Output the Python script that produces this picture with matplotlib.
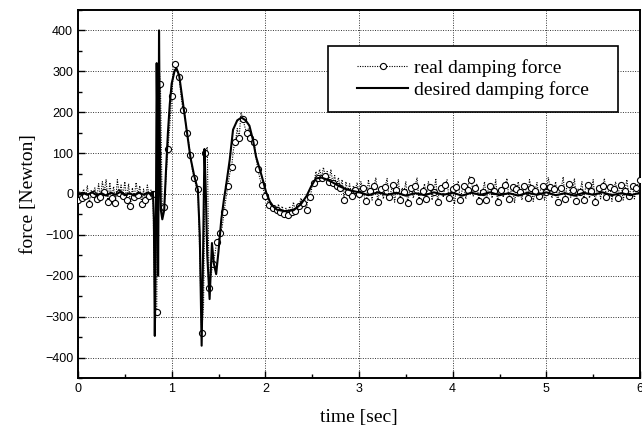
import numpy as np
import matplotlib
matplotlib.use("Agg")
import matplotlib.pyplot as plt
from matplotlib.ticker import MultipleLocator
from matplotlib.patches import Rectangle

# ---------------- data ----------------
# desired damping force (solid)
t_desired = [
    0.00, 0.05, 0.10, 0.15, 0.20, 0.25, 0.30, 0.35, 0.40, 0.45, 0.50, 0.55, 0.60, 0.65,
    0.70, 0.75, 0.78, 0.80, 0.81, 0.82, 0.83, 0.84, 0.85, 0.855, 0.86, 0.865, 0.875,
    0.885, 0.90, 0.92, 0.94, 0.96, 0.98, 1.00, 1.03, 1.05, 1.08, 1.11, 1.14, 1.17, 1.20,
    1.24, 1.28, 1.30, 1.32, 1.335, 1.35, 1.365, 1.38, 1.405, 1.43, 1.45, 1.475, 1.50,
    1.53, 1.56, 1.58, 1.62, 1.655, 1.70, 1.745, 1.79, 1.83, 1.87, 1.90, 1.96, 2.01, 2.06,
    2.12, 2.20, 2.30, 2.38, 2.44, 2.49, 2.54, 2.60, 2.65, 2.72, 2.79, 2.86, 2.94, 3.02,
    3.10, 3.20, 3.30, 3.40, 3.50, 3.60, 3.70, 3.80, 3.90, 4.00, 4.10, 4.20, 4.30, 4.40,
    4.50, 4.60, 4.70, 4.80, 4.90, 5.00, 5.10, 5.20, 5.30, 5.40, 5.50, 5.60, 5.70, 5.80,
    5.90, 6.00]
f_desired = [
    0, 3, -2, 4, -3, 2, -4, 3, -2, 5, -3, 2, -4, 3,
    -2, 4, -3, 5, -60, -347, -150, 320, 100, -200, 0, 400, 100,
    -40, -62, -40, 60, 150, 220, 270, 300, 308, 290, 240, 190, 140, 90,
    45, 10, -100, -371, -150, 110, 0, -150, -257, -120, -170, -196, -140,
    -62, -10, 19, 84, 157, 180, 187, 180, 167, 130, 92, 45, 3, -25,
    -38, -42, -40, -25, -5, 19, 38, 40, 36, 28, 19, 12, 7, 3,
    -3, 4, -2, 3, -4, 2, -3, 4, -2, 3, -4, 3, -2, 4,
    -3, 2, -4, 3, -2, 4, -3, 2, -4, 3, -2, 4, -3, 2,
    -3, 3]

# real damping force (dotted with circles), sampled every 0.02 s from 0 to 6 s
t_real_start, t_real_end = 0.0, 6.0
f_real = [
    -15, 5, -10, 12, -5, 20, -25, 8, 0, 15,
    -12, 25, -8, 30, 5, 35, -20, 28, -10, 18,
    -22, 35, 2, 22, -5, 30, -15, 25, -30, 15,
    -8, 28, -2, 20, -25, 12, -15, 22, -5, 10,
    0, -280, -289, 320, 270, -50, -31, 40, 110, 167,
    240, 300, 318, 300, 285, 240, 205, 194, 150, 128,
    95, 60, 40, 20, 11, -150, -340, -275, 100, 115,
    -230, -200, -170, -150, -118, -110, -96, -80, -43, -10,
    20, 50, 67, 110, 126, 160, 136, 200, 184, 165,
    150, 160, 136, 120, 128, 90, 60, 40, 22, 10,
    -5, -15, -28, -20, -35, -30, -40, -25, -45, -30,
    -49, -35, -51, -30, -45, -20, -41, -25, -30, -10,
    -23, -15, -38, 0, -7, 20, 27, 55, 40, 60,
    40, 65, 44, 55, 30, 60, 27, 45, 20, 40,
    15, 35, -15, 30, 5, 25, -5, 20, 10, 28,
    0, 30, 15, -10, -18, 35, 8, -15, 20, 40,
    -20, 10, 12, -12, 18, 38, -8, 5, 22, -20,
    10, 35, -15, 15, 5, 30, -22, 8, 15, -10,
    20, 40, -18, 12, 8, 25, -12, 30, 18, -15,
    5, 38, -20, 10, 15, -8, 22, 35, -10, 5,
    12, -25, 18, 32, -15, 8, 20, -12, 10, 42,
    35, -5, 15, 25, -18, 10, 5, 30, -15, 12,
    20, -10, 8, 35, -20, 15, 10, -8, 22, 38,
    -12, 5, 18, -22, 12, 30, 5, -15, 20, 10,
    -10, 35, 15, -18, 8, 28, -5, 12, 20, -15,
    5, 40, 18, -10, 12, 30, -20, 8, 15, 42,
    -12, 20, 25, -8, 10, 38, -18, 12, 5, 30,
    -15, 18, 22, -10, 8, 35, -20, 10, 15, -12,
    20, 38, -8, 5, 18, -18, 12, 30, -10, 15,
    22, -15, 8, 35, -5, 10, 20, -12, 15, 25,
    35]
t_real = np.linspace(t_real_start, t_real_end, len(f_real))

x_ticks = [0, 1, 2, 3, 4, 5, 6]
y_ticks = [-400, -300, -200, -100, 0, 100, 200, 300, 400]
x_label = "time [sec]"
y_label = "force [Newton]"
legend_labels = ["real damping force", "desired damping force"]

# ---------------- plot ----------------
fig = plt.figure(figsize=(6.42, 4.33), dpi=100)
ax = fig.add_axes([0.1215, 0.127, 0.8754, 0.850])

ax.plot(t_real, f_real, linestyle=(0, (1, 1.2)), color="black", linewidth=0.8,
        marker="o", markersize=4.4, markerfacecolor="white", markeredgecolor="black",
        markeredgewidth=0.8, markevery=2, label=legend_labels[0], zorder=3)
ax.plot(t_desired, f_desired, color="black", linewidth=1.5,
        label=legend_labels[1], zorder=4)

ax.set_xlim(0, 6)
ax.set_ylim(-450, 450)
ax.set_xticks(x_ticks)
ax.set_yticks(y_ticks)
ax.xaxis.set_minor_locator(MultipleLocator(0.5))
ax.yaxis.set_minor_locator(MultipleLocator(50))
ax.tick_params(which="both", direction="in", top=False, right=False, width=1.0)
ax.tick_params(which="major", length=5, labelsize=9)
ax.tick_params(which="minor", length=3)
for lab in ax.get_xticklabels() + ax.get_yticklabels():
    lab.set_family("Liberation Sans")

for s in ax.spines.values():
    s.set_linewidth(1.4)

ax.grid(True, which="major", linestyle=(0, (1, 1.5)), color="#333333", linewidth=0.7)
ax.set_axisbelow(True)

ax.set_xlabel(x_label, family="Liberation Serif", fontsize=14, labelpad=10)
ax.set_ylabel(y_label, family="Liberation Serif", fontsize=14, labelpad=6)

# legend frame (drawn separately so the horizontal padding matches)
lx0, ly0, lx1, ly1 = 0.445, 0.723, 0.961, 0.902
ax.add_patch(Rectangle((lx0, ly0), lx1 - lx0, ly1 - ly0, transform=ax.transAxes,
                       facecolor="white", edgecolor="black", linewidth=1.2, zorder=5))
leg = ax.legend(loc="center", bbox_to_anchor=((lx0 + lx1) / 2, (ly0 + ly1) / 2),
                borderaxespad=0, prop={"family": "Liberation Serif", "size": 14},
                handlelength=2.6, frameon=False, borderpad=0.2,
                labelspacing=0.25, handletextpad=0.3)
leg.set_zorder(6)

fig.savefig("out.png", dpi=100)
